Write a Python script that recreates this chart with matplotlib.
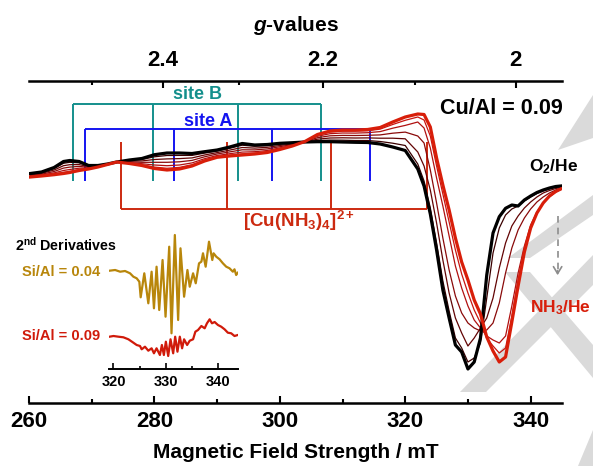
import numpy as np
import matplotlib
matplotlib.use('Agg')
import matplotlib.pyplot as plt
from matplotlib.patches import Polygon
from matplotlib.ticker import FixedLocator

plt.rcParams['font.family'] = ['Liberation Sans', 'DejaVu Sans']
plt.rcParams['font.weight'] = 'bold'
plt.rcParams['axes.labelweight'] = 'bold'
plt.rcParams['mathtext.fontset'] = 'custom'
plt.rcParams['mathtext.rm'] = 'Liberation Sans:bold'
plt.rcParams['mathtext.it'] = 'Liberation Sans:bold:italic'
plt.rcParams['mathtext.bf'] = 'Liberation Sans:bold'
plt.rcParams['mathtext.default'] = 'rm'

# ---------------- data ----------------
field_mT = [260.2, 262, 264, 265.5, 266.5, 268, 269.5, 271, 272.5, 274, 276, 278, 280, 282, 284,
            286, 288, 290, 292, 294, 296, 298, 300, 302, 304, 306, 308, 310, 312, 314, 316, 318,
            320, 322, 323, 324, 325, 326, 327, 328, 329, 330, 331, 332, 333, 334, 335, 336, 337,
            338, 339, 340, 341, 342, 343, 344, 344.8]

spec_O2 = [4.5, 6, 10.5, 16.5, 17.5, 16.5, 12.5, 12.5, 14, 16, 18, 19.5, 23.3, 25, 25, 24.5, 26.3,
           28, 31, 34.5, 33, 33.5, 34.7, 35.3, 36, 36.3, 36.3, 36, 35.7, 35.5, 34, 31, 27.5,
           9, -8, -36, -72, -112, -140, -167, -174, -191, -184, -160, -97, -55, -38.7, -30.3, -27,
           -28, -22, -18, -14.5, -12, -10, -8.5, -8]
spec_1 = [4.0, 5.4, 9.4, 14.7, 15.7, 15.2, 12.0, 12.3, 13.9, 16, 17.5, 18.5, 21.2, 22.5, 22.6, 22.6,
          24.9, 26.9, 29.7, 32.8, 31.7, 32.3, 33.8, 34.8, 36.1, 37.4, 37.9, 37.8, 37.5, 37.5, 36.5,
          34.8, 32.5,
          14, -3, -30, -65, -103, -133, -160, -170, -184, -180, -165, -120, -75, -50, -37, -31, -28,
          -23, -19, -15.5, -13, -11, -9, -8.5]
spec_2 = [3.3, 4.6, 8.0, 12.3, 13.3, 13.4, 11.3, 12.0, 13.8, 16, 16.8, 17.1, 18.5, 19.1, 19.4, 20.1,
          23.0, 25.4, 27.9, 30.5, 29.9, 30.7, 32.5, 34.1, 36.2, 38.8, 40.0, 40.2, 40.0, 40.1, 39.8,
          39.8, 39.2,
          26, 12, -12, -45, -82, -115, -140, -155, -168, -160, -150, -140, -120, -90, -65, -48, -38,
          -30, -24, -19, -15, -12.5, -10.5, -9.5]
spec_3 = [2.6, 3.8, 6.5, 9.9, 10.9, 11.6, 10.6, 11.7, 13.7, 16, 16.1, 15.7, 15.7, 15.7, 16.2, 17.6,
          21.2, 24.0, 26.1, 28.2, 28.1, 29.1, 31.3, 33.5, 36.3, 40.3, 42.2, 42.6, 42.5, 42.7, 43.1,
          44.8, 45.9,
          42, 35, 8, -25, -60, -92, -118, -135, -145, -150, -153, -152, -145, -125, -95, -70, -52,
          -40, -31, -24, -19, -15, -12, -10]
spec_4 = [1.9, 3.0, 5.1, 7.5, 8.5, 9.8, 9.9, 11.4, 13.6, 16, 15.4, 14.3, 13.0, 12.3, 13.0, 15.1,
          19.3, 22.5, 24.3, 25.9, 26.3, 27.5, 30.1, 32.8, 36.4, 41.7, 44.3, 45.0, 44.9, 45.3, 46.4,
          49.8, 52.6,
          56, 50, 30, 0, -28, -58, -88, -110, -128, -142, -150, -158, -162, -165, -158, -128, -95,
          -68, -47, -34, -25, -19, -14, -11.5]
spec_5 = [1.4, 2.4, 4.0, 5.7, 6.7, 8.4, 9.4, 11.2, 13.6, 16, 14.9, 13.2, 10.9, 9.7, 10.6, 13.3,
          17.9, 21.4, 22.9, 24.2, 24.9, 26.3, 29.1, 32.3, 36.5, 42.8, 45.9, 46.8, 46.8, 47.2, 48.9,
          53.5, 57.7,
          61, 58, 42, 12, -16, -44, -72, -96, -115, -132, -145, -160, -168, -175, -170, -138, -102,
          -72, -49, -35, -25, -18.5, -13.5, -11]
spec_NH3 = [1, 2, 3.3, 4.5, 5.5, 7.5, 9, 11, 13.5, 16, 14.5, 12.5, 9.5, 8, 9, 12, 17, 20.7, 22, 23,
            24, 25.5, 28.5, 32, 36.5, 43.5, 47, 48, 48, 48.5, 50.5, 56, 61,
            64, 63.5, 51, 20, -7, -32, -60, -84, -102, -122, -136, -159, -173, -184, -179, -144,
            -108, -74, -50, -35, -25, -18, -13.5, -11]

siteB_field = [267.0, 279.7, 293.3, 306.6]
siteA_field = [269.0, 283.1, 298.8, 314.4]
cu_field = [274.6, 291.5, 308.2, 323.5]

g_major = [2.4, 2.2, 2.0]
g_major_labels = ['2.4', '2.2', '2']
g_minor = [2.5, 2.3, 2.1]
mw_freq_GHz = 9.45

# inset: 2nd derivatives
d2_field_04 = [319.24, 320.32, 321.27, 322.22, 323.17, 323.81, 324.44, 324.95, 325.21, 325.90,
               326.67, 327.30, 327.75, 328.25, 328.76, 329.40, 329.97, 330.67, 331.11, 331.75,
               332.38, 332.83, 333.52, 334.16, 334.60, 335.24, 335.75, 336.38, 336.83, 337.14,
               337.65, 338.29, 338.92, 339.17, 339.68, 340.32, 340.95, 341.59, 342.22, 342.86,
               343.17, 343.49, 343.81]
d2_val_04 = [98.3, 99, 97.3, 98, 95.7, 92.3, 90.7, 87.3, 71.7, 95.7, 65.7, 97.3, 60.7, 102.3, 59,
             109, 52.3, 122.3, 35.7, 134, 49, 120.7, 72.3, 99, 82.3, 95.7, 85.7, 105.7, 107.3,
             115.7, 102.3, 127.3, 109, 115.7, 112.3, 109.7, 105.7, 102.3, 100.7, 97.3, 99.7, 94,
             96.3]
d2_field_09 = [319.24, 320.0, 320.95, 321.90, 322.86, 323.81, 324.44, 325.08, 325.40, 326.03,
               326.67, 327.30, 327.75, 328.25, 328.89, 329.27, 329.65, 330.03, 330.48, 330.92,
               331.43, 331.81, 332.25, 332.70, 333.14, 333.52, 334.10, 334.60, 335.24, 335.68,
               336.19, 336.83, 337.46, 337.90, 338.41, 338.86, 339.37, 340.0, 340.63, 341.27,
               341.90, 342.54, 343.17, 343.81]
d2_val_09 = [32.3, 33, 32.3, 31.7, 29.7, 26.3, 24, 23, 19.7, 22.3, 18.3, 20.7, 15.7, 20.7, 14, 24,
             14, 27.3, 13, 29.7, 15.7, 32.3, 17.3, 32.3, 20.7, 29.7, 24, 28.3, 29.7, 37.3, 39, 43,
             40.7, 45.7, 49.7, 45.7, 47, 44, 42.3, 39.7, 36.3, 35.7, 33, 34]
inset_ticks = [320, 330, 340]

# ---------------- figure ----------------
W, H = 593, 466
fig = plt.figure(figsize=(W / 100, H / 100), dpi=100)

def fxy(px, py):
    return (px / W, 1 - py / H)

# background watermark shapes (light grey, behind everything)
wm = '#dadada'
for poly in [
    [(593, 95), (593, 138), (558, 150)],
    [(508, 258), (530, 258), (593, 215), (593, 195)],
    [(460, 392), (486, 392), (593, 285), (593, 255)],
    [(505, 272), (530, 272), (593, 345), (593, 378)],
    [(578, 466), (593, 430), (593, 466)],
]:
    fig.add_artist(Polygon([fxy(*p) for p in poly], closed=True, transform=fig.transFigure,
                           facecolor=wm, edgecolor='none', zorder=-5))

ax = fig.add_axes([29 / W, 1 - 403 / H, (562 - 29) / W, (403 - 81) / H])
ax.set_zorder(2)
ax.set_facecolor('none')
ax.set_xlim(260, 345)
ax.set_ylim(-225, 97)

thin_colors = ['#3a0000', '#620404', '#8a0a0a', '#b01010', '#c81510']
for s, c in zip([spec_1, spec_2, spec_3, spec_4, spec_5], thin_colors):
    ax.plot(field_mT, s, color=c, lw=0.9, zorder=3)
ax.plot(field_mT, spec_O2, color='black', lw=2.3, zorder=4)
ax.plot(field_mT, spec_NH3, color='#d81e0a', lw=2.3, zorder=5)

# stick diagrams
teal = '#148f8c'
blue = '#1414f0'
red = '#cc2a10'
def sticks(fields, level, end, color):
    ax.plot([fields[0], fields[-1]], [level, level], color=color, lw=1.4, zorder=2,
            solid_capstyle='butt')
    for f in fields:
        ax.plot([f, f], [level, end], color=color, lw=1.4, zorder=2, solid_capstyle='butt')

sticks(siteB_field, 74, -3, teal)
sticks(siteA_field, 49, -3, blue)
sticks(cu_field, -31, 36, red)

ax.text(286.8, 84, 'site B', color=teal, fontsize=13, fontweight='bold', ha='center',
        va='center')
ax.text(288.5, 57, 'site A', color=blue, fontsize=13, fontweight='bold', ha='center',
        va='center')
ax.text(303.1, -43, r'[Cu(NH$_3$)$_4$]$^{2+}$', color=red, fontsize=13.5, fontweight='bold',
        ha='center', va='center')
ax.text(335.4, 70, 'Cu/Al = 0.09', color='black', fontsize=15.5, fontweight='bold',
        ha='center', va='center')
ax.text(343.6, 11, r'O$_2$/He', color='black', fontsize=12.5, fontweight='bold', ha='center',
        va='center')
ax.text(339.9, -130, r'NH$_3$/He', color='#d81e0a', fontsize=12.5, fontweight='bold',
        ha='left', va='center')

ax.plot([344.3, 344.3], [-38, -92], color='#8c8c8c', lw=1.2, ls=(0, (4, 3)))
ax.annotate('', xy=(344.3, -100), xytext=(344.3, -90),
            arrowprops=dict(arrowstyle='->,head_width=0.3,head_length=0.5', color='#8c8c8c',
                            lw=1.2))

for sp in ['left', 'right', 'top']:
    ax.spines[sp].set_visible(False)
ax.spines['bottom'].set_linewidth(1.8)
ax.set_yticks([])
ax.set_xticks([260, 280, 300, 320, 340])
ax.xaxis.set_minor_locator(FixedLocator([270, 290, 310, 330]))
ax.tick_params(axis='x', which='major', direction='in', length=5, width=1.5, labelsize=16, pad=6)
ax.tick_params(axis='x', which='minor', direction='in', length=3, width=1.5)
for lab in ax.get_xticklabels():
    lab.set_fontweight('bold')
ax.set_xlabel('Magnetic Field Strength / mT', fontsize=15, fontweight='bold', labelpad=8)

K = 71.4477 * mw_freq_GHz
def b2g(b):
    b = np.asarray(b, dtype=float)
    with np.errstate(divide='ignore', invalid='ignore'):
        return K / b

secax = ax.secondary_xaxis('top', functions=(b2g, b2g))
secax.set_xticks(g_major)
secax.set_xticklabels(g_major_labels, fontweight='bold')
secax.xaxis.set_minor_locator(FixedLocator(g_minor))
secax.tick_params(axis='x', which='major', direction='in', length=5, width=1.5, labelsize=16,
                  pad=7)
secax.tick_params(axis='x', which='minor', direction='in', length=3, width=1.5)
secax.spines['top'].set_linewidth(1.8)
secax.set_xlabel(r'$\mathit{g}$-values', fontsize=15, fontweight='bold', labelpad=14)

# inset
axi = fig.add_axes([109.3 / W, 1 - 369 / H, 129 / W, 139 / H])
axi.set_zorder(3)
axi.set_facecolor('none')
axi.set_xlim(319.2, 343.9)
axi.set_ylim(0, 139)
axi.plot(d2_field_04, d2_val_04, color='#b8860b', lw=1.6)
axi.plot(d2_field_09, d2_val_09, color='#d01a0a', lw=1.6)
for sp in ['left', 'right', 'top']:
    axi.spines[sp].set_visible(False)
axi.spines['bottom'].set_linewidth(1.4)
axi.set_yticks([])
axi.set_xticks(inset_ticks)
axi.xaxis.set_minor_locator(FixedLocator([325, 335]))
axi.tick_params(axis='x', which='major', direction='in', length=4, width=1.2, labelsize=10.5,
                pad=4)
axi.tick_params(axis='x', which='minor', direction='in', length=2.5, width=1.2)
for lab in axi.get_xticklabels():
    lab.set_fontweight('bold')

fig.text(15 / W, 1 - 245 / H, r'2$^{nd}$ Derivatives', fontsize=10.3, fontweight='bold',
         ha='left', va='center')
fig.text(100 / W, 1 - 271.7 / H, 'Si/Al = 0.04', fontsize=10.5, fontweight='bold',
         color='#b8860b', ha='right', va='center')
fig.text(100 / W, 1 - 336 / H, 'Si/Al = 0.09', fontsize=10.5, fontweight='bold',
         color='#d01a0a', ha='right', va='center')

fig.savefig('out.png', dpi=100)
